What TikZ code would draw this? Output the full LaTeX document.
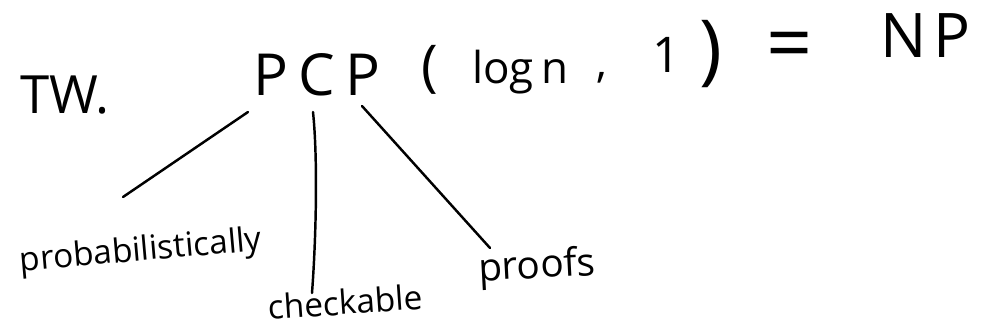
\documentclass[tikz,border=0pt]{standalone}
\usepackage{fontspec}
\setmainfont{Open Sans}
\tikzset{
  hw/.style={inner sep=0pt, outer sep=0pt, text=black},
  link/.style={line width=1.4pt, line cap=round, line join=round, draw=black},
}
\begin{document}
\begin{tikzpicture}[x=0.02cm,y=-0.02cm]
\useasboundingbox[fill=white] (0,0) rectangle (993,335);
% top formula
\node[hw, anchor=base west, font=\fontsize{30}{36}\selectfont] (tw) at (20,113) {TW.};
\node[hw, anchor=base west, font=\fontsize{33}{40}\selectfont] (pcp) at (253,95) {P\hspace{6pt}C\hspace{6pt}P};
\node[hw, font=\fontsize{32}{38}\selectfont] (lpar) at (430,70) {(};
\node[hw, anchor=base west, font=\fontsize{25}{30}\selectfont] (logn) at (472,83) {log\,n};
\node[hw, anchor=base, font=\fontsize{25}{30}\selectfont] (comma) at (602,77) {,};
\node[hw, anchor=base west, font=\fontsize{28}{34}\selectfont] (one) at (652,72) {1};
\node[hw, font=\fontsize{44}{52}\selectfont] (rpar) at (711,54) {)};
\node[hw, font=\fontsize{46}{54}\selectfont] (eq) at (790,52) {=};
\node[hw, anchor=base west, font=\fontsize{35}{42}\selectfont] (np) at (880,57) {N\hspace{4pt}P};
% labels
\node[hw, rotate=5, font=\fontsize{19}{23}\selectfont] (prob) at (141,252) {probabilistically};
\node[hw, rotate=4, font=\fontsize{19}{23}\selectfont] (check) at (345,302) {checkable};
\node[hw, rotate=3, font=\fontsize{22}{26}\selectfont] (proofs) at (537,268) {proofs};
% connector ends
\coordinate (la) at (248,112);
\coordinate (lb) at (123,197);
\coordinate (ma) at (313,112);
\coordinate (mb) at (312,293);
\coordinate (ra) at (362,106);
\coordinate (rb) at (490,248);
\draw[link] (la) -- (lb);
\draw[link] (ma) .. controls (318,160) and (316,240) .. (mb);
\draw[link] (ra) -- (rb);
\end{tikzpicture}
\end{document}
